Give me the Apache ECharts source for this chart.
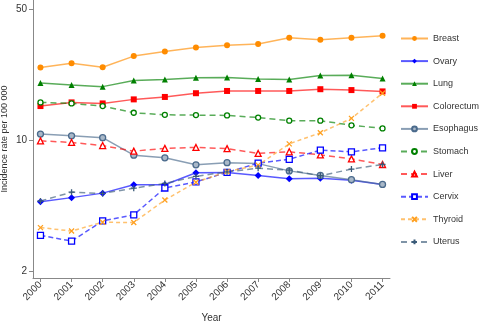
<!DOCTYPE html>
<html>
<head>
<meta charset="utf-8">
<script src="https://cdn.jsdelivr.net/npm/echarts@6/dist/echarts.min.js"></script>
<style>
  html, body { margin: 0; padding: 0; background: #fff; }
  #chart { width: 480px; height: 324px; }
</style>
</head>
<body>
<div id="chart"></div>
<script>
// Cancer incidence rates (per 100 000), 2000-2011
const years = [2000, 2001, 2002, 2003, 2004, 2005, 2006, 2007, 2008, 2009, 2010, 2011];
const yTicks = [2, 10, 50];

const breast     = [24.4, 25.7, 24.5, 28.1, 29.7, 31.2, 32.1, 32.6, 35.2, 34.3, 35.2, 36.1];
const ovary      = [4.68, 4.93, 5.21, 5.78, 5.78, 6.69, 6.71, 6.48, 6.21, 6.26, 6.11, 5.80];
const lung       = [20.2, 19.7, 19.3, 20.8, 21.1, 21.5, 21.6, 21.2, 21.1, 22.1, 22.2, 21.3];
const colorectum = [15.2, 15.9, 15.7, 16.5, 17.0, 17.8, 18.3, 18.3, 18.3, 18.7, 18.5, 18.2];
const esophagus  = [10.77, 10.54, 10.3, 8.31, 8.04, 7.38, 7.58, 7.49, 6.85, 6.48, 6.15, 5.80];
const stomach    = [15.9, 15.7, 15.2, 14.0, 13.65, 13.6, 13.55, 13.2, 12.7, 12.7, 12.0, 11.55];
const liver      = [9.91, 9.72, 9.35, 8.73, 9.03, 9.14, 9.01, 8.49, 8.66, 8.34, 7.94, 7.41];
const cervix     = [3.10, 2.89, 3.70, 3.99, 5.55, 5.98, 6.73, 7.53, 7.90, 8.84, 8.66, 9.10];
const thyroid    = [3.41, 3.27, 3.64, 3.63, 4.79, 5.96, 6.79, 7.35, 9.55, 10.94, 13.06, 17.8];
const uterus     = [4.73, 5.27, 5.19, 5.54, 5.87, 6.40, 6.77, 7.08, 6.91, 6.45, 7.00, 7.41];

const PLUS = 'path://M5,0L5,10M0,5L10,5';
const CROSS = 'path://M0,0L10,10M10,0L0,10';

function pairs(vals) { return years.map((y, i) => [y, vals[i]]); }

function makeSeries(name, vals, color, opts) {
  const o = opts || {};
  const hollow = o.hollow;
  const stroked = o.stroked;
  return {
    name: name,
    type: 'line',
    data: pairs(vals),
    symbol: o.symbol,
    symbolSize: o.size || 6,
    showSymbol: true,
    z: o.z || 2,
    lineStyle: {
      color: color,
      width: 1.5,
      opacity: 0.65,
      type: o.dash ? o.dash : 'solid'
    },
    itemStyle: {
      color: stroked ? 'rgba(0,0,0,0)' : (hollow ? (o.fill || '#fff') : color),
      borderColor: color,
      borderWidth: (hollow || stroked) ? 1.3 : 0
    },
    emphasis: { disabled: true }
  };
}

const series = [
  makeSeries('Breast', breast, '#FF8C00', { symbol: 'circle', size: 6 }),
  makeSeries('Ovary', ovary, '#0000FF', { symbol: 'diamond', size: 7 }),
  makeSeries('Lung', lung, '#008000', { symbol: 'triangle', size: 6 }),
  makeSeries('Colorectum', colorectum, '#FF0000', { symbol: 'rect', size: 6 }),
  makeSeries('Esophagus', esophagus, '#4A6A8C', { symbol: 'circle', size: 6, hollow: true, fill: '#A9B8C8' }),
  makeSeries('Stomach', stomach, '#008000', { symbol: 'circle', size: 5, hollow: true, dash: [6, 4] }),
  makeSeries('Liver', liver, '#FF0000', { symbol: 'triangle', size: 6, hollow: true, dash: [6, 4] }),
  makeSeries('Cervix', cervix, '#0000FF', { symbol: 'rect', size: 6, hollow: true, dash: [5, 3] }),
  makeSeries('Thyroid', thyroid, '#FFA020', { symbol: CROSS, size: 5, stroked: true, dash: [4, 3] }),
  makeSeries('Uterus', uterus, '#3A5A78', { symbol: PLUS, size: 6, stroked: true, dash: [6, 4] })
];

const chart = echarts.init(document.getElementById('chart'), null, { renderer: 'canvas' });
chart.setOption({
  animation: false,
  backgroundColor: '#fff',
  textStyle: { fontFamily: 'Liberation Sans, Arial, sans-serif' },
  grid: { left: 33, right: 90, top: 0, bottom: 46, containLabel: false, outerBoundsMode: 'none' },
  xAxis: {
    type: 'value',
    min: 1999.76,
    max: 2011.24,
    name: 'Year',
    nameLocation: 'middle',
    nameGap: 35,
    nameMoveOverlap: false,
    nameTextStyle: { fontSize: 10, color: '#333' },
    splitLine: { show: false },
    axisLine: { show: true, lineStyle: { color: '#888', width: 1 } },
    axisTick: { show: true, length: 4, lineStyle: { color: '#888' }, customValues: years },
    axisLabel: {
      customValues: years,
      rotate: 45,
      fontSize: 10,
      color: '#333',
      margin: 5,
      formatter: v => String(v)
    }
  },
  yAxis: {
    type: 'log',
    logBase: 10,
    min: 1.835,
    max: 56,
    name: 'Incidence rate per 100 000',
    nameLocation: 'middle',
    nameGap: 24,
    nameRotate: 90,
    nameMoveOverlap: false,
    nameTextStyle: { fontSize: 9, color: '#333' },
    splitLine: { show: false },
    axisLine: { show: true, lineStyle: { color: '#888', width: 1 } },
    axisTick: { show: true, length: 4, lineStyle: { color: '#888' }, customValues: yTicks },
    axisLabel: {
      customValues: yTicks,
      fontSize: 10,
      color: '#333',
      margin: 6,
      formatter: v => String(Math.round(v))
    }
  },
  legend: {
    orient: 'vertical',
    left: 400,
    top: 34,
    padding: 0,
    itemWidth: 27,
    itemHeight: 6,
    itemGap: 13.6,
    textStyle: { fontSize: 9, color: '#333', padding: [0, 0, 0, 0] },
    data: series.map(s => s.name)
  },
  series: series
});
</script>
</body>
</html>
